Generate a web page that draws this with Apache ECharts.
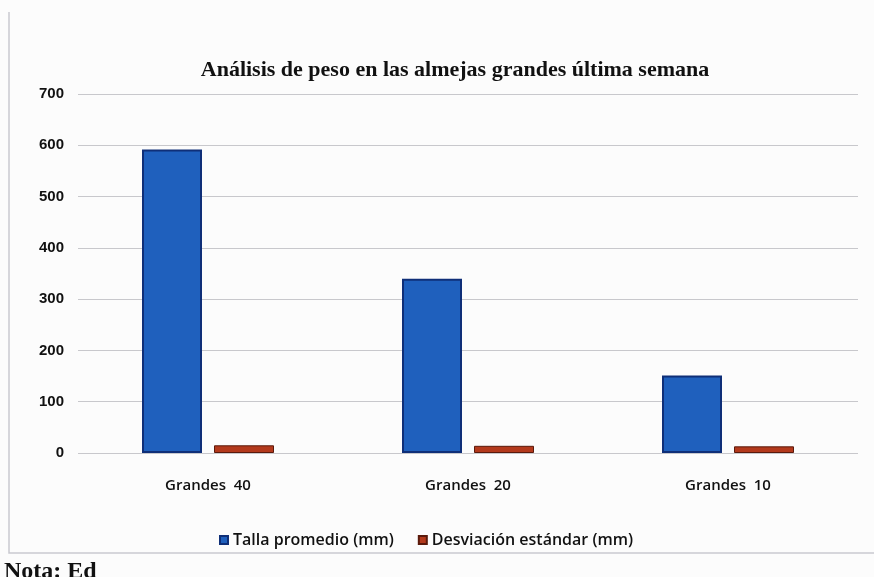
<!DOCTYPE html>
<html>
<head>
<meta charset="utf-8">
<script src="https://cdn.jsdelivr.net/npm/echarts@6/dist/echarts.min.js"></script>
<style>
  html, body { margin: 0; padding: 0; background: #fcfcfc; }
  #chart { width: 874px; height: 577px; }
</style>
</head>
<body>
<div id="chart"></div>
<script>
  // datos
  var categorias = ['Grandes  40', 'Grandes  20', 'Grandes  10'];
  var tallaPromedio = [592, 340, 151];
  var desviacion = [15, 14, 13];
  var yTicks = [0, 100, 200, 300, 400, 500, 600, 700];

  var myChart = echarts.init(document.getElementById('chart'));

  myChart.setOption({
    backgroundColor: '#fcfcfc',
    animation: false,
    title: {
      text: 'Análisis de peso en las almejas grandes última semana',
      left: 450,
      textAlign: 'center',
      top: 54,
      textStyle: {
        fontFamily: 'Liberation Serif',
        fontSize: 22,
        fontWeight: 'bold',
        color: '#111'
      }
    },
    legend: {
      data: ['Talla promedio (mm)', 'Desviación estándar (mm)'],
      left: 214,
      top: 527,
      itemWidth: 8,
      itemHeight: 8,
      itemGap: 24,
      icon: 'rect',
      textStyle: {
        fontFamily: 'Open Sans',
        fontSize: 16,
        fontWeight: 600,
        color: '#111'
      }
    },
    grid: {
      left: 78,
      right: 16,
      top: 94,
      bottom: 124
    },
    xAxis: {
      type: 'category',
      data: categorias,
      axisLine: { show: false },
      axisTick: { show: false },
      axisLabel: {
        margin: 25,
        fontFamily: 'Open Sans',
        fontSize: 15,
        fontWeight: 600,
        color: '#111'
      }
    },
    yAxis: {
      type: 'value',
      min: yTicks[0],
      max: yTicks[yTicks.length - 1],
      interval: 100,
      axisLine: { show: false },
      axisTick: { show: false },
      axisLabel: {
        margin: 14,
        fontFamily: 'Liberation Sans',
        fontWeight: 'bold',
        fontSize: 15,
        color: '#111'
      },
      splitLine: {
        lineStyle: { color: '#c8c8cc', width: 1 }
      }
    },
    series: [
      {
        name: 'Talla promedio (mm)',
        type: 'bar',
        barWidth: 60,
        barGap: '20%',
        data: tallaPromedio,
        itemStyle: {
          color: '#1f60bd',
          borderColor: '#0f2f78',
          borderWidth: 2
        }
      },
      {
        name: 'Desviación estándar (mm)',
        type: 'bar',
        barWidth: 60,
        data: desviacion,
        itemStyle: {
          color: '#b3391c',
          borderColor: '#5a1a0c',
          borderWidth: 1
        }
      }
    ],
    graphic: [
      {
        type: 'polyline',
        shape: { points: [[9, 12], [9, 553], [874, 553]] },
        style: { stroke: '#c9c9d0', lineWidth: 1.5, fill: null }
      },
      {
        type: 'text',
        left: 4,
        top: 560,
        style: {
          text: 'Nota: Ed',
          fontFamily: 'Liberation Serif',
          fontWeight: 'bold',
          fontSize: 24,
          fill: '#111'
        }
      }
    ]
  });
</script>
</body>
</html>
